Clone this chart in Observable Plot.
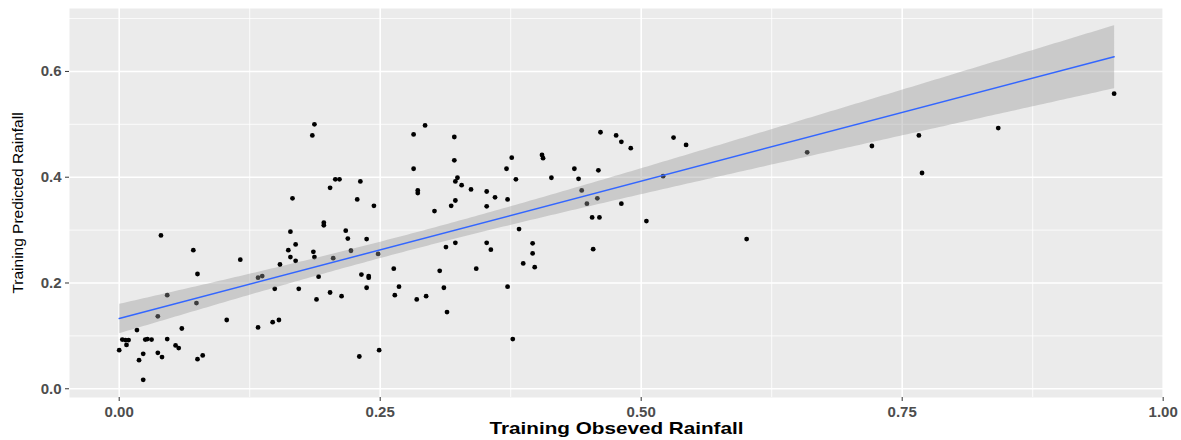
<!DOCTYPE html>
<html>
<head>
<meta charset="utf-8">
<script src="https://cdn.jsdelivr.net/npm/d3@7"></script>
<script src="https://cdn.jsdelivr.net/npm/@observablehq/plot@0.6"></script>
<style>
  html, body { margin: 0; padding: 0; background: #ffffff; }
  #chart { width: 1181px; height: 440px; }
  svg { display: block; }
</style>
</head>
<body>
<div id="chart"></div>
<script>
// Observed (x) and predicted (y) training rainfall
const observed = [
  0.000, 0.003, 0.006, 0.009, 0.007, 0.017, 0.019, 0.023, 0.023, 0.025,
  0.027, 0.031, 0.037, 0.037, 0.040, 0.041, 0.046, 0.046, 0.054, 0.057,
  0.060, 0.071, 0.074, 0.075, 0.075, 0.080, 0.103, 0.116, 0.133, 0.133,
  0.137, 0.147, 0.149, 0.153, 0.154, 0.162, 0.164, 0.164, 0.166, 0.169,
  0.169, 0.172, 0.185, 0.187, 0.186, 0.187, 0.189, 0.191, 0.196, 0.196,
  0.202, 0.202, 0.205, 0.207, 0.211, 0.213, 0.217, 0.219, 0.222, 0.228,
  0.231, 0.230, 0.232, 0.239, 0.239, 0.237, 0.237, 0.244, 0.248, 0.249,
  0.263, 0.264, 0.268, 0.282, 0.282, 0.285, 0.286, 0.286, 0.293, 0.294,
  0.302, 0.307, 0.311, 0.313, 0.314, 0.318, 0.321, 0.321, 0.322, 0.322,
  0.322, 0.324, 0.328, 0.337, 0.342, 0.352, 0.352, 0.352, 0.356, 0.360,
  0.371, 0.372, 0.372, 0.376, 0.377, 0.380, 0.383, 0.387, 0.396, 0.396,
  0.398, 0.405, 0.406, 0.414, 0.436, 0.440, 0.443, 0.448, 0.453, 0.454,
  0.459, 0.458, 0.461, 0.460, 0.476, 0.481, 0.481, 0.490, 0.505, 0.521,
  0.531, 0.543, 0.601, 0.659, 0.721, 0.766, 0.769, 0.842, 0.953
];
const predicted = [
  0.073, 0.093, 0.092, 0.092, 0.083, 0.111, 0.054, 0.066, 0.017, 0.093,
  0.094, 0.093, 0.068, 0.137, 0.290, 0.060, 0.177, 0.094, 0.082, 0.077,
  0.114, 0.262, 0.162, 0.217, 0.056, 0.063, 0.130, 0.244, 0.116, 0.210,
  0.213, 0.126, 0.189, 0.130, 0.235, 0.262, 0.297, 0.249, 0.360, 0.273,
  0.242, 0.189, 0.479, 0.500, 0.259, 0.249, 0.169, 0.212, 0.314, 0.309,
  0.380, 0.182, 0.247, 0.396, 0.396, 0.175, 0.299, 0.284, 0.261, 0.358,
  0.392, 0.061, 0.216, 0.213, 0.210, 0.283, 0.191, 0.346, 0.255, 0.073,
  0.227, 0.177, 0.193, 0.481, 0.416, 0.169, 0.375, 0.370, 0.498, 0.175,
  0.336, 0.223, 0.191, 0.268, 0.145, 0.346, 0.476, 0.432, 0.392, 0.356,
  0.276, 0.399, 0.385, 0.377, 0.227, 0.373, 0.345, 0.276, 0.263, 0.362,
  0.416, 0.358, 0.193, 0.437, 0.094, 0.396, 0.302, 0.237, 0.275, 0.256,
  0.230, 0.442, 0.436, 0.399, 0.416, 0.397, 0.375, 0.350, 0.324, 0.264,
  0.413, 0.360, 0.485, 0.324, 0.479, 0.467, 0.350, 0.455, 0.317, 0.402,
  0.475, 0.461, 0.283, 0.447, 0.459, 0.479, 0.408, 0.493, 0.558
];

// Axis ticks
const xTicks = [0, 0.25, 0.5, 0.75, 1.0];
const xMinor = [0.125, 0.375, 0.625, 0.875];
const yTicks = [0, 0.2, 0.4, 0.6];
const yMinor = [0.1, 0.3, 0.5, 0.7];

// Axis titles
const xTitle = "Training Obseved Rainfall";
const yTitle = "Training Predicted Rainfall";

const data = observed.map((x, i) => ({observed: x, predicted: predicted[i]}));

const chart = Plot.plot({
  width: 1181,
  height: 440,
  marginLeft: 69,
  marginRight: 18,
  marginTop: 8,
  marginBottom: 43,
  style: {fontFamily: "'Liberation Sans', Arial, sans-serif", background: "#ffffff"},
  x: {domain: [-0.0476, 1.0003]},
  y: {domain: [-0.0165, 0.719]},
  marks: [
    Plot.frame({fill: "#EBEBEB", stroke: null}),
    Plot.gridX(xMinor, {stroke: "#ffffff", strokeOpacity: 1, strokeWidth: 0.8}),
    Plot.gridY(yMinor, {stroke: "#ffffff", strokeOpacity: 1, strokeWidth: 0.8}),
    Plot.gridX(xTicks, {stroke: "#ffffff", strokeOpacity: 1, strokeWidth: 1.6}),
    Plot.gridY(yTicks, {stroke: "#ffffff", strokeOpacity: 1, strokeWidth: 1.6}),
    Plot.axisX({
      ticks: xTicks, tickFormat: d3.format(".2f"), tickSize: 4, tickPadding: 5,
      stroke: "#333333", color: "#4D4D4D", fontSize: 15, fontWeight: "bold", label: null
    }),
    Plot.axisY({
      ticks: yTicks, tickFormat: d3.format(".1f"), tickSize: 4, tickPadding: 4,
      stroke: "#333333", color: "#4D4D4D", fontSize: 15, fontWeight: "bold", label: null
    }),
    Plot.dot(data, {x: "observed", y: "predicted", r: 2.4, fill: "#000000", stroke: null}),
    Plot.linearRegressionY(data, {
      x: "observed", y: "predicted", stroke: "#3366FF", strokeWidth: 1.5,
      fill: "#999999", fillOpacity: 0.4, ci: 0.95
    }),
    Plot.text([xTitle], {
      frameAnchor: "bottom", dy: 31, text: d => d, fontSize: 17, fontWeight: "bold",
      fill: "#000000", lineAnchor: "middle", textAnchor: "middle"
    }),
    Plot.text([yTitle], {
      frameAnchor: "left", dx: -51, rotate: -90, text: d => d, fontSize: 15.5,
      fill: "#000000", lineAnchor: "middle", textAnchor: "middle"
    })
  ]
});

// widen the x-axis title to the reference's stretched appearance
d3.select(chart).selectAll("text")
  .filter(function() { return this.textContent === xTitle; })
  .attr("textLength", 254)
  .attr("lengthAdjust", "spacingAndGlyphs");

document.getElementById("chart").appendChild(chart);
</script>
</body>
</html>
